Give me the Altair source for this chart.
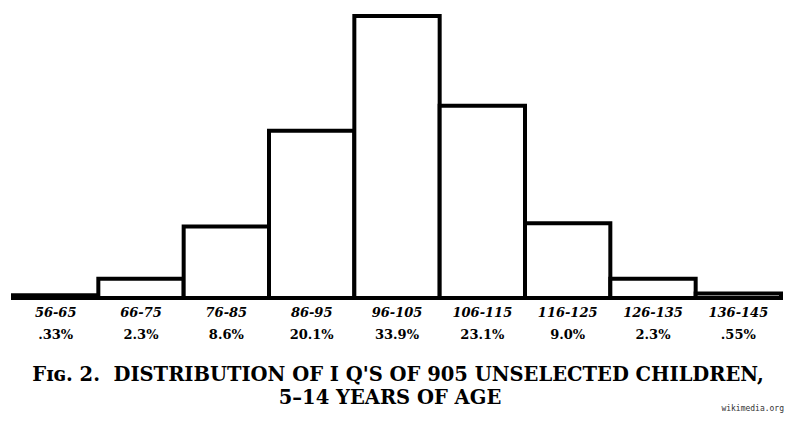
import altair as alt
import pandas as pd

# Data
iq_low = [56, 66, 76, 86, 96, 106, 116, 126, 136]
iq_high = [65, 75, 85, 95, 105, 115, 125, 135, 145]
percent = [0.33, 2.3, 8.6, 20.1, 33.9, 23.1, 9.0, 2.3, 0.55]
range_labels = ["56-65", "66-75", "76-85", "86-95", "96-105", "106-115", "116-125", "126-135", "136-145"]
percent_labels = [".33%", "2.3%", "8.6%", "20.1%", "33.9%", "23.1%", "9.0%", "2.3%", ".55%"]
title_line1 = "Fɪɢ. 2.\u00a0\u00a0DISTRIBUTION OF I Q'S OF 905 UNSELECTED CHILDREN,"
title_line2 = "5–14 YEARS OF AGE"
watermark = "wikimedia.org"

df = pd.DataFrame({
    "low": iq_low,
    "high": iq_high,
    "pct": percent,
    "range": range_labels,
    "pct_label": percent_labels,
})
df["start"] = df["low"] - 0.5
df["end"] = df["high"] + 0.5
df["mid"] = (df["start"] + df["end"]) / 2

W, H = 768, 282
xscale = alt.Scale(domain=[55.5, 145.5], nice=False, zero=False)
yscale = alt.Scale(domain=[0, 33.9], nice=False)

base = alt.Chart(df)

bars = base.mark_rect(fill="white", stroke="black", strokeWidth=4, strokeJoin="miter").encode(
    x=alt.X("start:Q", scale=xscale, axis=None),
    x2="end:Q",
    y=alt.Y("pct:Q", scale=yscale, axis=None),
    y2=alt.datum(0),
)

range_text = base.mark_text(
    font="DejaVu Serif", fontWeight="bold", fontStyle="italic", fontSize=13,
    baseline="middle", color="black",
).encode(
    x=alt.X("mid:Q", scale=xscale, axis=None),
    y=alt.value(297),
    text="range:N",
)

pct_text = base.mark_text(
    font="DejaVu Serif", fontWeight="bold", fontSize=13,
    baseline="middle", color="black",
).encode(
    x=alt.X("mid:Q", scale=xscale, axis=None),
    y=alt.value(319),
    text="pct_label:N",
)

title1 = alt.Chart(pd.DataFrame({"t": [title_line1]})).mark_text(
    font="DejaVu Serif", fontWeight="bold", fontSize=19.5, baseline="middle", align="center", color="black"
).encode(x=alt.value(385), y=alt.value(359), text="t:N")
title2 = alt.Chart(pd.DataFrame({"t": [title_line2]})).mark_text(
    font="DejaVu Serif", fontWeight="bold", fontSize=19.5, baseline="middle", align="center", color="black"
).encode(x=alt.value(377), y=alt.value(382), text="t:N")

wm = alt.Chart(pd.DataFrame({"t": [watermark]})).mark_text(
    font="DejaVu Sans Mono", fontSize=8, baseline="middle", align="right", color="#333333"
).encode(x=alt.value(771), y=alt.value(393), text="t:N")

chart = alt.layer(bars, range_text, pct_text, title1, title2, wm).properties(
    width=W, height=H,
    padding={"left": 13, "top": 16, "right": 14, "bottom": 124},
    autosize=alt.AutoSizeParams(type="none"),
    background="white",
).configure_view(stroke=None)

chart.save("out.html", embed_options={"renderer": "svg", "actions": False})
